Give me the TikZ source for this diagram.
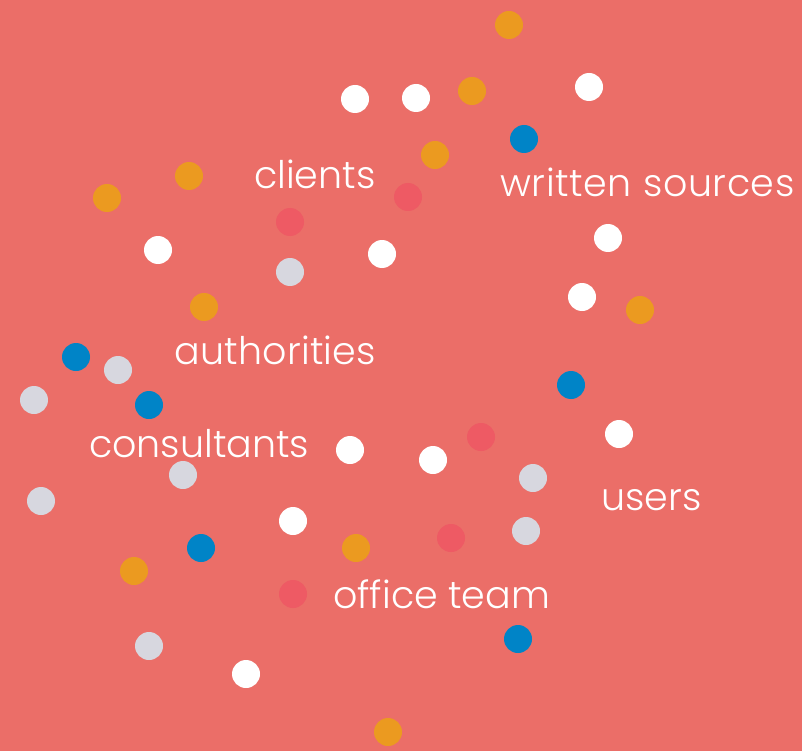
\documentclass[tikz,border=0pt]{standalone}
\usepackage{fontspec}
\setmainfont{Poppins}[UprightFont={* Light}]
\usepackage{xcolor}
\definecolor{bgred}{HTML}{EB6E68}
\definecolor{dotorange}{HTML}{EB9A20}
\definecolor{dotblue}{HTML}{0084C7}
\definecolor{dotgrey}{HTML}{D7D7DF}
\definecolor{dotred}{HTML}{EE5A64}

\begin{document}
\begin{tikzpicture}[x=1pt, y=-1pt,
    dot/.style={circle, inner sep=0pt, minimum size=28pt},
    group/.style={anchor=base west, inner sep=0pt, text=white,
                  font=\fontsize{38}{40}\selectfont}]
    \fill[bgred] (0,0) rectangle (802,751);
    % dots
    \foreach \x/\y in {509/25, 472/91, 435/155, 189/176, 107/198, 204/307,
                       640/310, 134/571, 356/548, 388/732}
      \node[dot, fill=dotorange] at (\x,\y) {};
    \foreach \x/\y in {355/99, 416/98, 589/87, 158/250, 382/254, 608/238,
                       582/297, 619/434, 350/450, 433/460, 293/521, 246/674}
      \node[dot, fill=white] at (\x,\y) {};
    \foreach \x/\y in {524/139, 76/357, 149/405, 571/385, 201/548, 518/639}
      \node[dot, fill=dotblue] at (\x,\y) {};
    \foreach \x/\y in {290/272, 118/370, 34/400, 183/475, 41/501, 533/478,
                       526/531, 149/646}
      \node[dot, fill=dotgrey] at (\x,\y) {};
    \foreach \x/\y in {408/197, 290/222, 481/437, 451/538, 293/594}
      \node[dot, fill=dotred] at (\x,\y) {};
    % labels
    \node[group] (clients) at (254,189) {clients};
    \node[group] (written) at (500,197) {\addfontfeatures{LetterSpace=1.6}written sources};
    \node[group] (authorities) at (174,364) {\addfontfeatures{LetterSpace=0.7}authorities};
    \node[group] (consultants) at (89,457) {consultants};
    \node[group] (users) at (601,510) {users};
    \node[group] (office) at (333,608) {office team};
\end{tikzpicture}
\end{document}
